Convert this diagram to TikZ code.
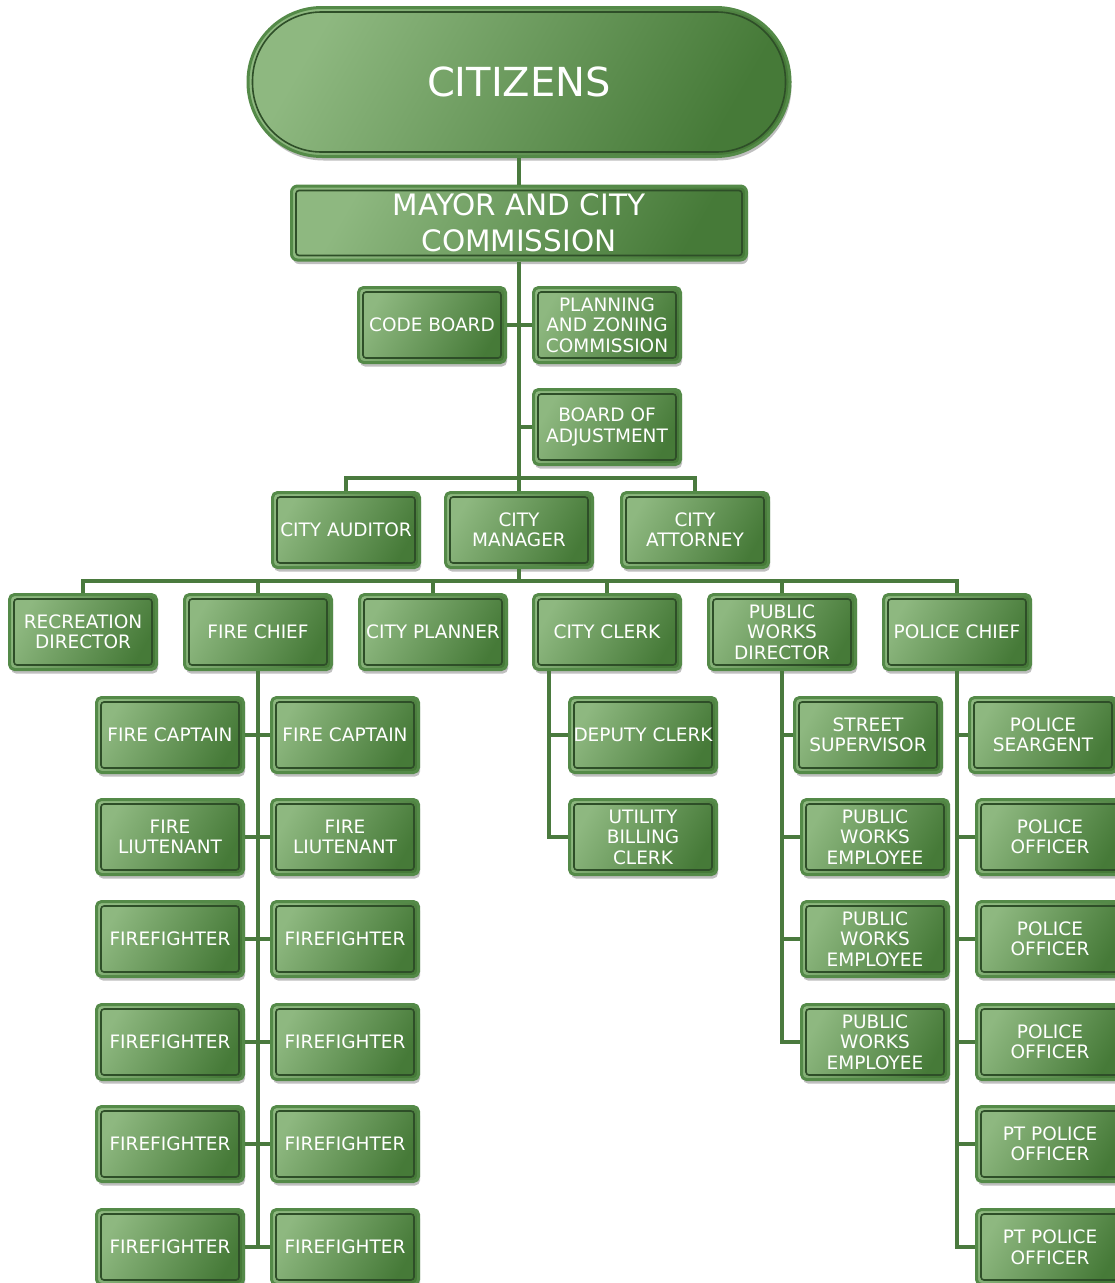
\documentclass[tikz,border=0pt]{standalone}
\usepackage{fontspec}
\setmainfont{DejaVu Sans}
\usetikzlibrary{shadows}
\definecolor{leaf}{RGB}{142,184,128}
\definecolor{moss}{RGB}{70,122,56}
\definecolor{rim}{RGB}{84,138,72}
\definecolor{ink}{RGB}{46,78,40}
\definecolor{stem}{RGB}{74,122,62}
\tikzset{
  unit/.style 2 args={rectangle, rounded corners=#1, draw=rim, line width=3pt, left color=leaf, right color=moss, shading angle=60, text=white, align=center, inner sep=0pt,
    drop shadow={shadow xshift=1.5pt, shadow yshift=-4pt, opacity=0.25, fill=black},
    path picture={\draw[ink, line width=1.6pt, rounded corners=#2] ([shift={(4.5pt,-4.5pt)}]path picture bounding box.north west) rectangle ([shift={(-4.5pt,4.5pt)}]path picture bounding box.south east);}},
  crowd/.style={unit={74pt}{69pt}, minimum width=542pt, minimum height=149pt, font=\fontsize{40}{46}\selectfont},
  head/.style={unit={6pt}{3pt}, minimum width=455pt, minimum height=74pt, font=\fontsize{29.5}{36}\selectfont},
  post/.style={unit={5pt}{3pt}, minimum width=147pt, minimum height=75pt, font=\fontsize{18.5}{20.5}\selectfont},
  link/.style={stem, line width=4.5pt}
}
\begin{document}
\begin{tikzpicture}[x=1pt,y=-1pt]
  \useasboundingbox (0,0) rectangle (1115,1283);
  \node[crowd] (citizens) at (519,82) {CITIZENS};
  \node[head] (mayor) at (519,223) {MAYOR AND CITY\\COMMISSION};
  \node[post] (codeboard) at (432,325) {CODE BOARD};
  \node[post] (zoning) at (607,325) {PLANNING\\AND ZONING\\COMMISSION};
  \node[post] (adjust) at (607,427) {BOARD OF\\ADJUSTMENT};
  \node[post] (auditor) at (346,530) {CITY AUDITOR};
  \node[post] (manager) at (519,530) {CITY\\MANAGER};
  \node[post] (attorney) at (695,530) {CITY\\ATTORNEY};
  \node[post] (recreation) at (83,632) {RECREATION\\DIRECTOR};
  \node[post] (firechief) at (258,632) {FIRE CHIEF};
  \node[post] (planner) at (433,632) {CITY PLANNER};
  \node[post] (clerk) at (607,632) {CITY CLERK};
  \node[post] (works) at (782,632) {PUBLIC\\WORKS\\DIRECTOR};
  \node[post] (policechief) at (957,632) {POLICE CHIEF};
  \node[post] (captainl) at (170,735) {FIRE CAPTAIN};
  \node[post] (captainr) at (345,735) {FIRE CAPTAIN};
  \node[post] (lieutl) at (170,837) {FIRE\\LIUTENANT};
  \node[post] (lieutr) at (345,837) {FIRE\\LIUTENANT};
  \node[post] (deputy) at (643,735) {DEPUTY CLERK};
  \node[post] (utility) at (643,837) {UTILITY\\BILLING\\CLERK};
  \node[post] (street) at (868,735) {STREET\\SUPERVISOR};
  \node[post] (employee1) at (875,837) {PUBLIC\\WORKS\\EMPLOYEE};
  \node[post] (employee2) at (875,939) {PUBLIC\\WORKS\\EMPLOYEE};
  \node[post] (employee3) at (875,1042) {PUBLIC\\WORKS\\EMPLOYEE};
  \node[post] (sergeant) at (1043,735) {POLICE\\SEARGENT};
  \node[post] (officer1) at (1050,837) {POLICE\\OFFICER};
  \node[post] (officer2) at (1050,939) {POLICE\\OFFICER};
  \node[post] (officer3) at (1050,1042) {POLICE\\OFFICER};
  \node[post] (ptofficer1) at (1050,1144) {PT POLICE\\OFFICER};
  \node[post] (ptofficer2) at (1050,1247) {PT POLICE\\OFFICER};
  \foreach \y [count=\i] in {939,1042,1144,1247} {
    \node[post] (firel\i) at (170,\y) {FIREFIGHTER};
    \node[post] (firer\i) at (345,\y) {FIREFIGHTER};
    \draw[link] (firel\i) -- (firer\i);
  }
  \coordinate (upper) at (519,478);
  \coordinate (lower) at (519,581);
  \coordinate (clerkdrop) at ([xshift=-58pt]clerk.south);
  \draw[link] (citizens) -- (mayor);
  \draw[link] (mayor) -- (manager);
  \draw[link] (codeboard) -- (zoning);
  \draw[link] (adjust -| mayor) -- (adjust);
  \draw[link] (auditor) |- (upper) -| (attorney);
  \draw[link] (manager) -- (lower);
  \draw[link] (recreation) |- (lower) -| (policechief);
  \draw[link] (lower -| firechief) -- (firechief);
  \draw[link] (lower -| planner) -- (planner);
  \draw[link] (lower -| clerk) -- (clerk);
  \draw[link] (lower -| works) -- (works);
  \draw[link] (firechief) -- (firechief |- firel4);
  \draw[link] (captainl) -- (captainr);
  \draw[link] (lieutl) -- (lieutr);
  \draw[link] (clerkdrop) |- (utility);
  \draw[link] (clerkdrop |- deputy) -- (deputy);
  \draw[link] (works) |- (employee3);
  \draw[link] (works |- street) -- (street);
  \draw[link] (works |- employee1) -- (employee1);
  \draw[link] (works |- employee2) -- (employee2);
  \draw[link] (policechief) |- (ptofficer2);
  \draw[link] (policechief |- sergeant) -- (sergeant);
  \draw[link] (policechief |- officer1) -- (officer1);
  \draw[link] (policechief |- officer2) -- (officer2);
  \draw[link] (policechief |- officer3) -- (officer3);
  \draw[link] (policechief |- ptofficer1) -- (ptofficer1);
\end{tikzpicture}
\end{document}
